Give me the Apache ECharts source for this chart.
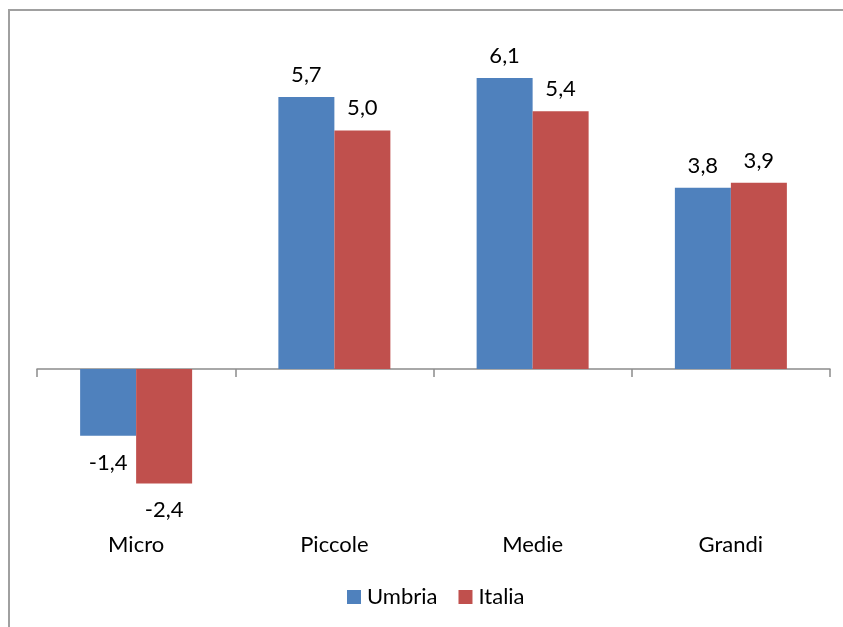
<!DOCTYPE html>
<html>
<head>
<meta charset="utf-8">
<script src="https://cdn.jsdelivr.net/npm/echarts@6/dist/echarts.min.js"></script>
<style>
  html, body { margin: 0; padding: 0; background: #fff; }
  #chart { width: 843px; height: 627px; }
</style>
</head>
<body>
<div id="chart"></div>
<script>
// Classi dimensionali d'impresa
const categories = ['Micro', 'Piccole', 'Medie', 'Grandi'];
// Variazioni percentuali per area
const umbria = [-1.4, 5.7, 6.1, 3.8];
const italia = [-2.4, 5.0, 5.4, 3.9];
const seriesNames = ['Umbria', 'Italia'];

const FONT = 'Lato, "Open Sans", sans-serif';
const FS = 22;
const fmt = v => v.toFixed(1).replace('.', ',');

// Etichette sopra le barre positive, sotto quelle negative
function toItems(values) {
  return values.map(v => ({
    value: v,
    label: { position: v < 0 ? 'bottom' : 'top', distance: v < 0 ? 16 : 11 }
  }));
}

const chart = echarts.init(document.getElementById('chart'), null, { renderer: 'canvas' });

chart.setOption({
  backgroundColor: '#ffffff',
  animation: false,
  textStyle: { fontFamily: FONT },
  graphic: [{
    type: 'rect',
    shape: { x: 9, y: 10, width: 900, height: 700 },
    style: { fill: 'none', stroke: '#a0a0a0', lineWidth: 2 },
    silent: true,
    z: -1
  }],
  grid: { left: 37, right: 13, top: 35, bottom: 115 },
  legend: {
    data: seriesNames,
    bottom: 14,
    left: 342,
    icon: 'rect',
    itemWidth: 14,
    itemHeight: 14,
    itemGap: 21,
    textStyle: { fontSize: FS, color: '#000', fontFamily: FONT, padding: [0, 0, 0, 1] }
  },
  xAxis: [{
    type: 'category',
    data: categories,
    axisLine: { onZero: true, lineStyle: { color: '#8c8c8c', width: 1.5 } },
    axisTick: { show: true, length: 8, lineStyle: { color: '#8c8c8c', width: 1.5 } },
    axisLabel: { show: false }
  }, {
    type: 'category',
    data: categories,
    position: 'bottom',
    axisLine: { show: false, onZero: false },
    axisTick: { show: false },
    axisLabel: { fontSize: FS, color: '#000', margin: 22, fontFamily: FONT }
  }],
  yAxis: {
    type: 'value',
    min: -3,
    max: 7,
    show: false,
    splitLine: { show: false }
  },
  series: [{
    name: seriesNames[0],
    type: 'bar',
    xAxisIndex: 0,
    data: toItems(umbria),
    barWidth: 56,
    barGap: '0%',
    itemStyle: { color: '#4F81BD' },
    label: { show: true, fontSize: FS, color: '#000', fontFamily: FONT, formatter: p => fmt(p.value) }
  }, {
    name: seriesNames[1],
    type: 'bar',
    xAxisIndex: 0,
    data: toItems(italia),
    barWidth: 56,
    barGap: '0%',
    itemStyle: { color: '#C0504D' },
    label: { show: true, fontSize: FS, color: '#000', fontFamily: FONT, formatter: p => fmt(p.value) }
  }]
});
</script>
</body>
</html>
